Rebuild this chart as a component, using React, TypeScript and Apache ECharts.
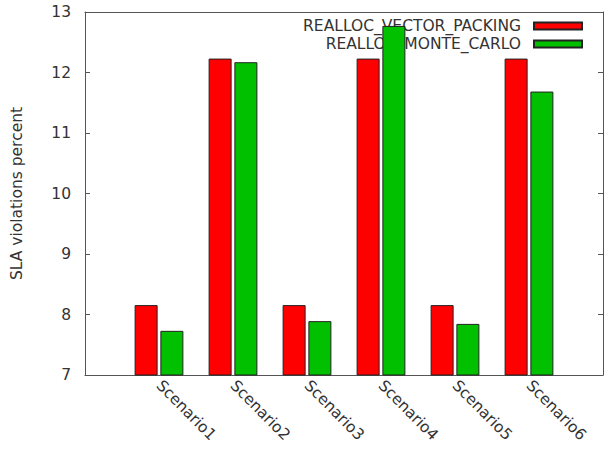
import React, { useEffect, useRef } from "react";
import * as echarts from "echarts";

const categories = ["", "Scenario1", "Scenario2", "Scenario3", "Scenario4", "Scenario5", "Scenario6", ""];
const vectorPacking = [null, 8.155, 12.23, 8.155, 12.23, 8.155, 12.23, null];
const monteCarlo = [null, 7.73, 12.17, 7.89, 12.77, 7.845, 11.685, null];
const seriesNames = ["REALLOC_VECTOR_PACKING", "REALLOC_MONTE_CARLO"];
const yTicks = { min: 7, max: 13, interval: 1 };

const FONT = "DejaVu Sans";
const TXT = "#333";
const FS = 15.5;

export default function App() {
  const ref = useRef<HTMLDivElement>(null);
  useEffect(() => {
    if (!ref.current) return;
    const chart = echarts.init(ref.current, undefined, { renderer: "svg" });
    const legendBase = {
      orient: "vertical",
      align: "right",
      right: 26,
      itemWidth: 48,
      itemHeight: 7,
      icon: "rect",
      z: 1,
      textStyle: { fontFamily: FONT, fontSize: FS, color: TXT, padding: [0, 8, 0, 0] },
    };
    chart.setOption({
      animation: false,
      backgroundColor: "#fff",
      textStyle: { fontFamily: FONT },
      grid: { left: 85, right: 11, top: 12, bottom: 74, containLabel: false },
      legend: [
        { ...legendBase, data: [seriesNames[0]], top: 13 },
        { ...legendBase, data: [seriesNames[1]], top: 31 },
      ],
      xAxis: [
        {
          type: "category",
          data: categories,
          boundaryGap: false,
          axisLine: { lineStyle: { color: "#555", width: 1 } },
          axisTick: { show: false },
          axisLabel: {
            rotate: -45,
            margin: 8,
            interval: 0,
            fontFamily: FONT,
            fontSize: FS,
            color: TXT,
          },
          splitLine: { show: false },
        },
        {
          type: "category",
          data: categories,
          boundaryGap: false,
          position: "top",
          axisLine: { show: true, lineStyle: { color: "#555", width: 1 } },
          axisTick: { show: false },
          axisLabel: { show: false },
        },
      ],
      yAxis: [
        {
          type: "value",
          min: yTicks.min,
          max: yTicks.max,
          interval: yTicks.interval,
          name: "SLA violations percent",
          nameLocation: "middle",
          nameGap: 60,
          nameTextStyle: { fontFamily: FONT, fontSize: FS, color: TXT },
          axisLine: { show: true, lineStyle: { color: "#555", width: 1 } },
          axisTick: { show: true, inside: true, length: 5, lineStyle: { color: "#555" } },
          axisLabel: { margin: 14, fontFamily: FONT, fontSize: FS, color: TXT },
          splitLine: { show: false },
        },
        {
          type: "value",
          min: yTicks.min,
          max: yTicks.max,
          interval: yTicks.interval,
          position: "right",
          axisLine: { show: true, lineStyle: { color: "#555", width: 1 } },
          axisTick: { show: true, inside: true, length: 5, lineStyle: { color: "#555" } },
          axisLabel: { show: false },
          splitLine: { show: false },
        },
      ],
      series: [
        {
          name: seriesNames[0],
          type: "bar",
          data: vectorPacking,
          barWidth: 23,
          barGap: "12%",
          z: 3,
          itemStyle: { color: "#ff0000", borderColor: "#222", borderWidth: 1 },
        },
        {
          name: seriesNames[1],
          type: "bar",
          data: monteCarlo,
          barWidth: 23,
          barGap: "12%",
          z: 3,
          itemStyle: { color: "#00c000", borderColor: "#222", borderWidth: 1 },
        },
      ],
    });
    return () => chart.dispose();
  }, []);
  return (
    <div
      ref={ref}
      style={{ position: "absolute", left: 0, top: 0, width: 614, height: 449 }}
    />
  );
}
